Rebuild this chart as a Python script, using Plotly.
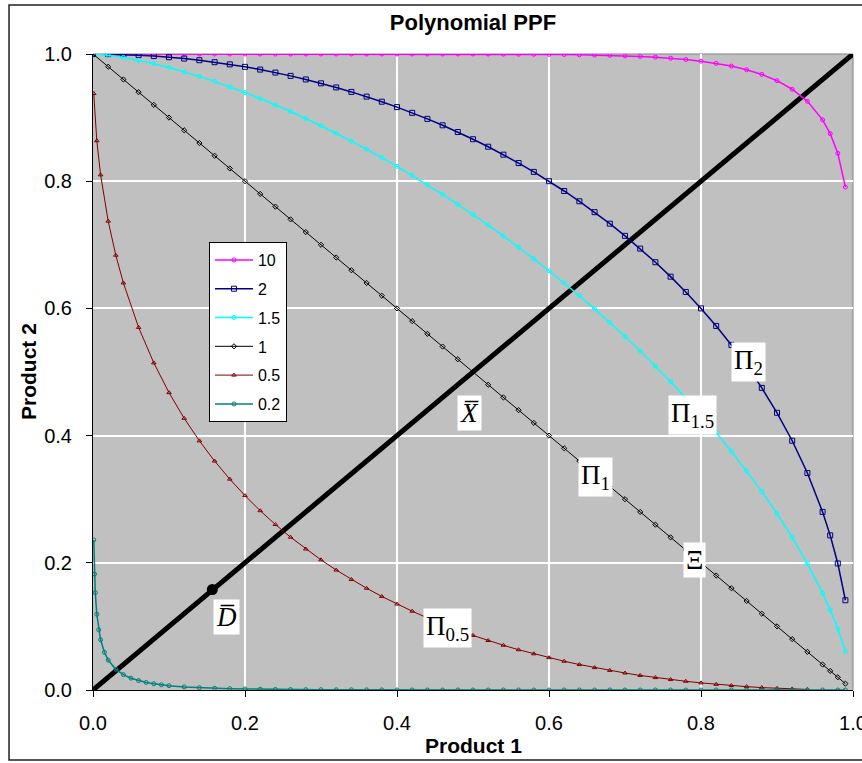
import plotly.graph_objects as go

# ---------------- data ----------------
X_MAIN = [0.00, 0.02, 0.04, 0.06, 0.08, 0.10, 0.12, 0.14, 0.16, 0.18,
          0.20, 0.22, 0.24, 0.26, 0.28, 0.30, 0.32, 0.34, 0.36, 0.38,
          0.40, 0.42, 0.44, 0.46, 0.48, 0.50, 0.52, 0.54, 0.56, 0.58,
          0.60, 0.62, 0.64, 0.66, 0.68, 0.70, 0.72, 0.74, 0.76, 0.78,
          0.80, 0.82, 0.84, 0.86, 0.88, 0.90, 0.92, 0.94, 0.96, 0.97,
          0.98, 0.99]

Y_P10 = [1.0, 1.0, 1.0, 1.0, 1.0, 1.0, 1.0, 1.0, 1.0, 1.0,
         1.0, 1.0, 1.0, 1.0, 1.0, 1.0, 1.0, 1.0, 1.0, 1.0,
         1.0, 1.0, 1.0, 1.0, 1.0, 1.0, 0.9999, 0.9998, 0.9997, 0.9996,
         0.9994, 0.9992, 0.9988, 0.9984, 0.9979, 0.9971, 0.9962, 0.9950, 0.9934, 0.9913,
         0.9887, 0.9853, 0.9810, 0.9753, 0.9679, 0.9580, 0.9446, 0.9256, 0.8965, 0.8748,
         0.8438, 0.7908]

Y_P2 = [1.0, 0.9998, 0.9992, 0.9982, 0.9968, 0.9950, 0.9928, 0.9902, 0.9871, 0.9837,
        0.9798, 0.9755, 0.9708, 0.9656, 0.9600, 0.9539, 0.9474, 0.9404, 0.9330, 0.9250,
        0.9165, 0.9075, 0.8980, 0.8879, 0.8773, 0.8660, 0.8542, 0.8417, 0.8285, 0.8146,
        0.8000, 0.7846, 0.7684, 0.7513, 0.7332, 0.7141, 0.6940, 0.6726, 0.6499, 0.6258,
        0.6000, 0.5724, 0.5426, 0.5103, 0.4750, 0.4359, 0.3919, 0.3412, 0.2800, 0.2431,
        0.1990, 0.1411]

Y_P15 = [1.0, 0.9981, 0.9947, 0.9902, 0.9849, 0.9788, 0.9721, 0.9648, 0.9569, 0.9484,
         0.9394, 0.9300, 0.9200, 0.9095, 0.8986, 0.8872, 0.8754, 0.8630, 0.8503, 0.8370,
         0.8233, 0.8091, 0.7945, 0.7794, 0.7637, 0.7476, 0.7310, 0.7139, 0.6962, 0.6780,
         0.6592, 0.6399, 0.6199, 0.5992, 0.5779, 0.5558, 0.5329, 0.5093, 0.4847, 0.4592,
         0.4325, 0.4047, 0.3755, 0.3448, 0.3123, 0.2775, 0.2400, 0.1988, 0.1522, 0.1259,
         0.0962, 0.0607]

Y_P1 = [1.00, 0.98, 0.96, 0.94, 0.92, 0.90, 0.88, 0.86, 0.84, 0.82,
        0.80, 0.78, 0.76, 0.74, 0.72, 0.70, 0.68, 0.66, 0.64, 0.62,
        0.60, 0.58, 0.56, 0.54, 0.52, 0.50, 0.48, 0.46, 0.44, 0.42,
        0.40, 0.38, 0.36, 0.34, 0.32, 0.30, 0.28, 0.26, 0.24, 0.22,
        0.20, 0.18, 0.16, 0.14, 0.12, 0.10, 0.08, 0.06, 0.04, 0.03,
        0.02, 0.01]

X_P05 = [0.001, 0.005, 0.01, 0.02, 0.03, 0.04, 0.06, 0.08, 0.10, 0.12,
         0.14, 0.16, 0.18, 0.20, 0.22, 0.24, 0.26, 0.28, 0.30, 0.32,
         0.34, 0.36, 0.38, 0.40, 0.42, 0.44, 0.46, 0.48, 0.50, 0.52,
         0.54, 0.56, 0.58, 0.60, 0.62, 0.64, 0.66, 0.68, 0.70, 0.72,
         0.74, 0.76, 0.78, 0.80, 0.82, 0.84, 0.86, 0.88, 0.90, 0.92,
         0.94]
Y_P05 = [0.9378, 0.8636, 0.8100, 0.7372, 0.6836, 0.6400, 0.5701, 0.5143, 0.4675, 0.4272,
         0.3917, 0.3600, 0.3315, 0.3056, 0.2819, 0.2602, 0.2402, 0.2217, 0.2046, 0.1886,
         0.1738, 0.1600, 0.1471, 0.1351, 0.1239, 0.1134, 0.1035, 0.0944, 0.0858, 0.0778,
         0.0703, 0.0633, 0.0569, 0.0508, 0.0452, 0.0400, 0.0352, 0.0308, 0.0267, 0.0229,
         0.0195, 0.0164, 0.0137, 0.0112, 0.0089, 0.0070, 0.0053, 0.0038, 0.0026, 0.0017,
         0.0009]

X_P02 = [0.001, 0.002, 0.003, 0.005, 0.0075, 0.01, 0.015, 0.02, 0.03, 0.04,
         0.05, 0.06, 0.07, 0.08, 0.09, 0.10, 0.12, 0.14, 0.16, 0.18,
         0.20, 0.22, 0.24, 0.26, 0.28, 0.30, 0.32, 0.34, 0.36, 0.38,
         0.40, 0.42, 0.44, 0.46, 0.48, 0.50, 0.52, 0.54, 0.56, 0.58,
         0.60, 0.62, 0.64, 0.66, 0.68, 0.70, 0.72, 0.74, 0.76, 0.78,
         0.80, 0.82, 0.84, 0.86, 0.88, 0.90, 0.92, 0.94, 0.96, 0.98,
         0.99]
Y_P02 = [0.2360, 0.1823, 0.1531, 0.1191, 0.0947, 0.0790, 0.0593, 0.0471, 0.0325, 0.0241,
         0.0186, 0.0148, 0.0119, 0.0098, 0.0082, 0.0068, 0.0049, 0.0036, 0.0027, 0.0021,
         0.0016, 0.0012, 0.0009, 0.0007, 0.0006, 0.0005, 0.0004, 0.0003, 0.0002, 0.0002,
         0.0001, 0.0, 0.0, 0.0, 0.0, 0.0, 0.0, 0.0, 0.0, 0.0,
         0.0, 0.0, 0.0, 0.0, 0.0, 0.0, 0.0, 0.0, 0.0, 0.0,
         0.0, 0.0, 0.0, 0.0, 0.0, 0.0, 0.0, 0.0, 0.0, 0.0,
         0.0]

DIAG_X = [0.0, 1.0]
DIAG_Y = [0.0, 1.0]
DBAR_X = [0.157]
DBAR_Y = [0.158]

SERIES_NAMES = ["10", "2", "1.5", "1", "0.5", "0.2"]
TICKS = [0.0, 0.2, 0.4, 0.6, 0.8, 1.0]
TICK_TEXT = ["0.0", "0.2", "0.4", "0.6", "0.8", "1.0"]

# ---------------- figure ----------------
SANS = "Liberation Sans, Arial, sans-serif"
SERIF = "Liberation Serif, Times New Roman, serif"

series = [
    (X_MAIN, Y_P10, "#FF00FF", "circle-open", 4, 1.5),
    (X_MAIN, Y_P2, "#000080", "square-open", 5, 1.5),
    (X_MAIN, Y_P15, "#00FFFF", "circle-open", 4, 1.5),
    (X_MAIN, Y_P1, "#000000", "diamond-open", 4, 1.0),
    (X_P05, Y_P05, "#800000", "triangle-up-open", 4, 1.0),
    (X_P02, Y_P02, "#008080", "circle-open", 4, 1.5),
]

fig = go.Figure()

fig.add_trace(go.Scatter(x=DIAG_X, y=DIAG_Y, mode="lines",
                         line=dict(color="black", width=5),
                         showlegend=False, hoverinfo="skip"))

for name, (xs, ys, col, sym, msz, lw) in zip(SERIES_NAMES, series):
    fig.add_trace(go.Scatter(
        x=xs, y=ys, name=name, mode="lines+markers", legendgroup=name,
        line=dict(color=col, width=lw),
        marker=dict(symbol=sym, size=msz, color=col, line=dict(width=1, color=col)),
    ))

fig.add_trace(go.Scatter(x=DBAR_X, y=DBAR_Y, mode="markers",
                         marker=dict(color="black", size=11),
                         showlegend=False, hoverinfo="skip"))

labels = [
    ("Π<sub>2</sub>", 0.862, 0.516),
    ("Π<sub>1.5</sub>", 0.789, 0.432),
    ("Π<sub>1</sub>", 0.661, 0.335),
    ("Ξ", 0.792, 0.204),
    ("Π<sub>0.5</sub>", 0.466, 0.097),
    ("<i>X\u0305</i>", 0.495, 0.436),
    ("<i>D\u0305</i>", 0.175, 0.115),
]
for txt, lx, ly in labels:
    fig.add_annotation(x=lx, y=ly, xref="x", yref="y", text=txt, showarrow=False,
                       font=dict(family=SERIF, size=27, color="black"),
                       bgcolor="white", borderpad=2)

# axis titles
fig.add_annotation(x=0.5, y=-0.0865, xref="paper", yref="paper", text="<b>Product 1</b>",
                   showarrow=False, font=dict(family=SANS, size=21, color="black"),
                   xanchor="center", yanchor="middle")
fig.add_annotation(x=-0.0855, y=0.5, xref="paper", yref="paper", text="<b>Product 2</b>",
                   showarrow=False, textangle=-90,
                   font=dict(family=SANS, size=21, color="black"),
                   xanchor="center", yanchor="middle")

# plot-area border (top/right) and chart-area border
fig.add_shape(type="line", xref="paper", yref="paper", x0=0, x1=1, y0=1, y1=1,
              line=dict(color="#808080", width=1), layer="between")
fig.add_shape(type="line", xref="paper", yref="paper", x0=1, x1=1, y0=0, y1=1,
              line=dict(color="#808080", width=1), layer="between")
fig.add_shape(type="rect", xref="paper", yref="paper", x0=-0.1105, x1=1.03,
              y0=-0.110, y1=1.077, line=dict(color="#202020", width=1.5))

axis_common = dict(
    range=[0, 1], tickvals=TICKS, ticktext=TICK_TEXT,
    showgrid=True, gridcolor="white", gridwidth=1.5,
    zeroline=False, showline=True, linecolor="black", linewidth=1,
    ticks="outside", ticklen=6, tickcolor="black", tickwidth=1,
    tickfont=dict(family=SANS, size=20, color="black"),
    ticklabeloverflow="allow", automargin=False,
    fixedrange=True,
)
fig.update_xaxes(**axis_common, ticklabelstandoff=9)
fig.update_yaxes(**axis_common, ticklabelstandoff=10)

fig.update_layout(
    width=862, height=763,
    margin=dict(l=93, r=9, t=54, b=73, autoexpand=False),
    paper_bgcolor="white", plot_bgcolor="#C0C0C0",
    title=dict(text="<b>Polynomial PPF</b>", x=0.5, xref="paper", xanchor="center",
               y=1 - 22 / 763, yanchor="middle",
               font=dict(family=SANS, size=22, color="black")),
    legend=dict(x=0.1526, y=0.7044, xanchor="left", yanchor="top",
                bgcolor="white", bordercolor="black", borderwidth=1,
                font=dict(family=SANS, size=16, color="black"),
                tracegroupgap=5, itemwidth=38),
    showlegend=True,
)

fig.write_html("out.html")
